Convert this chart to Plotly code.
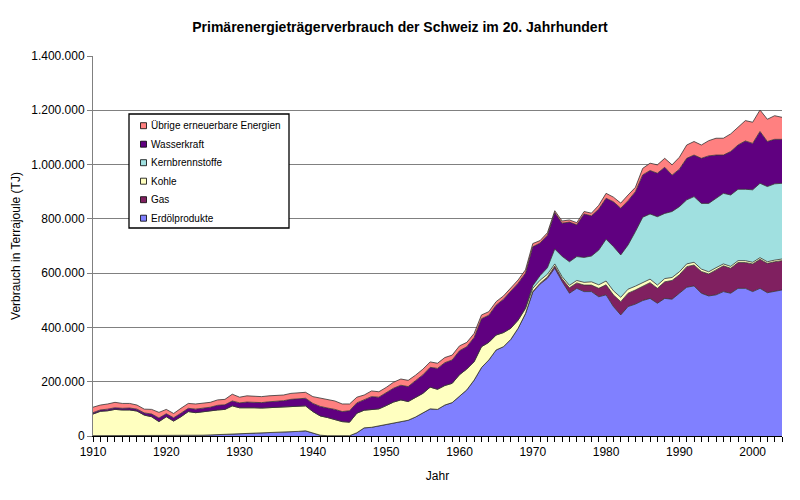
import plotly.graph_objects as go

# values in 1000 TJ
years = list(range(1910, 2005))

erdoel = [1,1,1,1,1,1,1,1,1,1,
          2,2,2,2,2,3,4,5,5,6,
          8,9,10,11,12,13,13,14,17,19,
          10,3,1,1,1,1,12,30,32,37,
          44,48,52,58,70,84,100,98,114,123,
          148,170,206,252,280,317,329,356,397,450,
          530,560,581,618,569,526,544,532,532,513,
          520,477,446,477,486,499,507,489,507,504,
          526,548,553,526,516,520,532,526,544,544,
          532,544,528,534,538]

gas = [0]*59 + [1,
       2,3,5,8,10,20,20,24,24,31,
       37,43,49,49,52,52,58,55,61,69,
       68,76,77,80,81,92,95,92,95,95,
       102,107,108,108,108]

kohle = [80,90,92,97,95,95,91,76,70,52,
         69,53,69,88,84,87,88,91,93,105,
         96,96,94,92,92,92,94,94,92,92,
         80,71,67,60,52,50,72,65,65,63,
         68,77,81,69,72,73,80,74,72,71,
         78,77,68,77,65,55,52,41,30,18,
         12,11,10,8,8,9,9,10,12,13,
         14,15,16,15,14,13,13,12,12,11,
         11,10,10,9,8,8,7,7,7,7,
         6,6,6,6,6]

kern = [0]*59 + [3,
        10,17,24,55,75,87,88,92,95,128,
        154,163,156,163,201,242,240,252,240,243,
        240,236,242,242,252,256,260,263,263,263,
        267,274,277,281,279]

wasser = [5,5,6,6,6,7,7,8,10,13,
          11,12,13,12,13,13,14,17,17,18,
          18,20,20,20,22,22,23,27,28,28,
          30,35,35,37,37,42,38,38,48,43,
          48,51,54,55,62,68,73,77,84,86,
          88,82,89,103,100,110,123,135,136,128,
          143,120,120,134,122,146,117,160,148,151,
          151,165,172,163,147,156,160,160,170,134,
          138,153,153,166,175,159,141,160,163,178,
          171,191,166,164,162]

uebrige = [20,18,19,20,18,17,15,14,17,21,
           16,16,18,18,19,17,18,20,20,25,
           21,23,23,22,22,22,21,22,23,22,
           25,30,30,31,28,25,21,18,21,20,
           19,22,23,23,20,21,20,19,19,18,
           18,16,15,14,13,13,12,12,12,12,
           12,9,9,7,8,8,8,9,10,14,
           18,17,19,21,16,24,27,31,33,38,
           44,49,50,49,56,62,62,65,65,75,
           78,79,82,87,81]

series = [
    ("Erdölprodukte", erdoel, "#8080FF"),
    ("Gas", gas, "#802060"),
    ("Kohle", kohle, "#FFFFC0"),
    ("Kernbrennstoffe", kern, "#A0E0E0"),
    ("Wasserkraft", wasser, "#600080"),
    ("Übrige erneuerbare Energien", uebrige, "#FF8080"),
]

FONT = "Liberation Sans, Arial, sans-serif"

# plot area geometry in pixels (for the hand-drawn legend box)
L, R, T, B = 93, 782, 56, 436
def px(xp):
    return (xp - L) / (R - L)
def py(yp):
    return (B - yp) / (B - T)

fig = go.Figure()
for name, vals, col in series:
    fig.add_trace(go.Scatter(
        x=years, y=[v * 1000 for v in vals], name=name,
        mode="lines", stackgroup="one", fillcolor=col,
        line=dict(color="#333333", width=0.8), showlegend=False,
        hoverinfo="x+y+name"))

shapes = [dict(type="rect", xref="paper", yref="paper",
               x0=px(129), x1=px(289), y0=py(228), y1=py(114),
               fillcolor="white", line=dict(color="black", width=1.3), layer="above")]
annotations = []
legend_y = [125.7, 144.2, 162.7, 181.2, 199.7, 218.2]
for (name, vals, col), yc in zip(reversed(series), legend_y):
    shapes.append(dict(type="rect", xref="paper", yref="paper",
                       x0=px(140.5), x1=px(146.5), y0=py(yc + 3), y1=py(yc - 3),
                       fillcolor=col, line=dict(color="black", width=0.8), layer="above"))
    annotations.append(dict(xref="paper", yref="paper", x=px(149), y=py(yc),
                            xanchor="left", yanchor="middle", showarrow=False,
                            text=name, font=dict(size=10, family=FONT, color="black")))

fig.update_layout(
    width=800, height=500,
    paper_bgcolor="white", plot_bgcolor="white",
    margin=dict(l=L, r=800 - R, t=T, b=500 - B),
    separators=",.",
    showlegend=False,
    font=dict(family=FONT, size=12, color="black"),
    title=dict(text="<b>Primärenergieträgerverbrauch der Schweiz im 20. Jahrhundert</b>",
               x=0.5, xref="container", xanchor="center",
               y=0.945, yref="container", yanchor="middle",
               font=dict(size=14, family=FONT, color="black")),
    shapes=shapes,
    annotations=annotations,
    xaxis=dict(range=[1910, 2004], dtick=10, tick0=1910,
               showgrid=False, zeroline=False,
               showline=True, linecolor="black", linewidth=1,
               ticks="outside", ticklen=5, tickcolor="black",
               minor=dict(dtick=1, ticks="outside", ticklen=5, tickcolor="black"),
               title=dict(text="Jahr", font=dict(size=12), standoff=13),
               tickfont=dict(size=12)),
    yaxis=dict(range=[0, 1400000], dtick=200000, tickformat=",d",
               showgrid=True, gridcolor="#808080", gridwidth=1,
               zeroline=False, showline=True, linecolor="#808080", linewidth=1,
               ticks="outside", ticklen=5, tickcolor="#808080",
               title=dict(text="Verbrauch in Terrajoule (TJ)", font=dict(size=12), standoff=8),
               tickfont=dict(size=12)),
)

fig.write_html("out.html", config={"displayModeBar": False},
               post_script="document.body.style.margin='0px';")
